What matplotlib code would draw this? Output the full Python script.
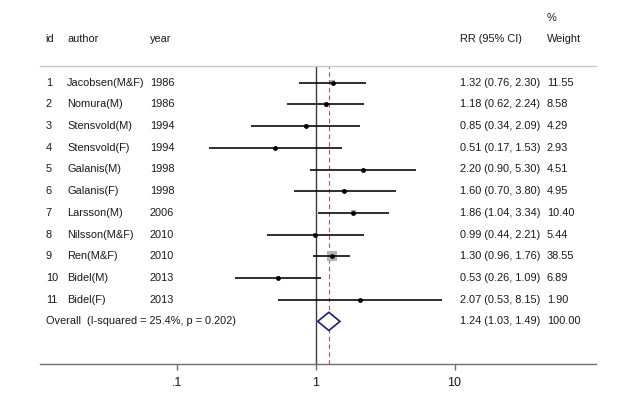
import matplotlib
matplotlib.use("Agg")
import matplotlib.pyplot as plt
from matplotlib.transforms import blended_transform_factory
from matplotlib.patches import Polygon

ids = ["1", "2", "3", "4", "5", "6", "7", "8", "9", "10", "11"]
authors = ["Jacobsen(M&F)", "Nomura(M)", "Stensvold(M)", "Stensvold(F)", "Galanis(M)",
           "Galanis(F)", "Larsson(M)", "Nilsson(M&F)", "Ren(M&F)", "Bidel(M)", "Bidel(F)"]
years = ["1986", "1986", "1994", "1994", "1998", "1998", "2006", "2010", "2010", "2013", "2013"]
rr = [1.32, 1.18, 0.85, 0.51, 2.20, 1.60, 1.86, 0.99, 1.30, 0.53, 2.07]
lo = [0.76, 0.62, 0.34, 0.17, 0.90, 0.70, 1.04, 0.44, 0.96, 0.26, 0.53]
hi = [2.30, 2.24, 2.09, 1.53, 5.30, 3.80, 3.34, 2.21, 1.76, 1.09, 8.15]
weights = [11.55, 8.58, 4.29, 2.93, 4.51, 4.95, 10.40, 5.44, 38.55, 6.89, 1.90]
overall_rr, overall_lo, overall_hi, overall_w = 1.24, 1.03, 1.49, 100.00
overall_label = "Overall  (I-squared = 25.4%, p = 0.202)"
xticks = [0.1, 1, 10]
xticklabels = [".1", "1", "10"]

plt.rcParams['font.family'] = ['Liberation Sans', 'DejaVu Sans']
W, H = 640, 395
fig = plt.figure(figsize=(W / 100, H / 100), dpi=100)

ax_left, ax_right, ax_top, ax_bot = 40, 596, 66, 364.3
ax = fig.add_axes([ax_left / W, 1 - ax_bot / H, (ax_right - ax_left) / W, (ax_bot - ax_top) / H])
ax.set_xscale('log')
ax.set_xlim(0.0102, 105)
row_h = 21.7
ax.set_ylim((ax_bot - 82.7) / row_h, (ax_top - 82.7) / row_h)

txt_col = '#1a1a1a'
fs = 7.9

# CI lines, squares, dots
n = len(rr)
rows = list(range(n))
for i in rows:
    ax.plot([lo[i], hi[i]], [i, i], color='black', lw=1.15, solid_capstyle='butt', zorder=3)
ax.scatter(rr, rows, marker='s', s=[1.344 * w for w in weights], color='#b4b4b4',
           edgecolors='none', zorder=2)
ax.scatter(rr, rows, marker='o', s=6, color='black', zorder=4)

# overall diamond
yo = n
hd = 0.42
diamond = Polygon([(overall_lo, yo), (overall_rr, yo - hd), (overall_hi, yo), (overall_rr, yo + hd)],
                  closed=True, facecolor='white', edgecolor='#1c2068', lw=1.2, zorder=5)
ax.add_patch(diamond)

# reference lines
ax.axvline(1, color='#3c3c3c', lw=1.0, zorder=1)
ax.axvline(overall_rr, color='#a85a50', lw=0.8, ls=(0, (4, 3)), zorder=1)

# spines
for s in ['left', 'right']:
    ax.spines[s].set_visible(False)
ax.spines['top'].set_color('#c8c8c8')
ax.spines['top'].set_linewidth(1.0)
ax.spines['bottom'].set_color('#6e6e6e')
ax.spines['bottom'].set_linewidth(1.0)
ax.set_yticks([])
ax.set_xticks(xticks)
ax.set_xticklabels(xticklabels, fontsize=9, color=txt_col)
ax.minorticks_off()
ax.tick_params(axis='x', direction='out', length=4, width=1.0, color='#6e6e6e', pad=5)

trans = blended_transform_factory(fig.transFigure, ax.transData)
col_id, col_author, col_year, col_rr, col_w = 45.7, 67.3, 150, 460, 546.7

for i in rows:
    ax.text(col_id / W, i, ids[i], transform=trans, fontsize=fs, va='center', ha='left', color=txt_col)
    ax.text(col_author / W, i, authors[i], transform=trans, fontsize=fs, va='center', ha='left', color=txt_col)
    ax.text(col_year / W, i, years[i], transform=trans, fontsize=fs, va='center', ha='left', color=txt_col)
    ax.text(col_rr / W, i, f"{rr[i]:.2f} ({lo[i]:.2f}, {hi[i]:.2f})", transform=trans,
            fontsize=fs, va='center', ha='left', color=txt_col)
    ax.text(col_w / W, i, f"{weights[i]:.2f}", transform=trans, fontsize=fs, va='center', ha='left', color=txt_col)

ax.text(col_id / W, yo, overall_label, transform=trans, fontsize=fs, va='center', ha='left', color=txt_col)
ax.text(col_rr / W, yo, f"{overall_rr:.2f} ({overall_lo:.2f}, {overall_hi:.2f})", transform=trans,
        fontsize=fs, va='center', ha='left', color=txt_col)
ax.text(col_w / W, yo, f"{overall_w:.2f}", transform=trans, fontsize=fs, va='center', ha='left', color=txt_col)

# headers
yh = (39 - 82.7) / row_h
yp = (18.3 - 82.7) / row_h
for x, t in [(col_id, "id"), (col_author, "author"), (col_year, "year"), (col_rr, "RR (95% CI)"), (col_w, "Weight")]:
    ax.text(x / W, yh, t, transform=trans, fontsize=fs, va='center', ha='left', color=txt_col, clip_on=False)
ax.text(col_w / W, yp, "%", transform=trans, fontsize=fs, va='center', ha='left', color=txt_col, clip_on=False)

fig.savefig("out.png", dpi=100, facecolor='white')
